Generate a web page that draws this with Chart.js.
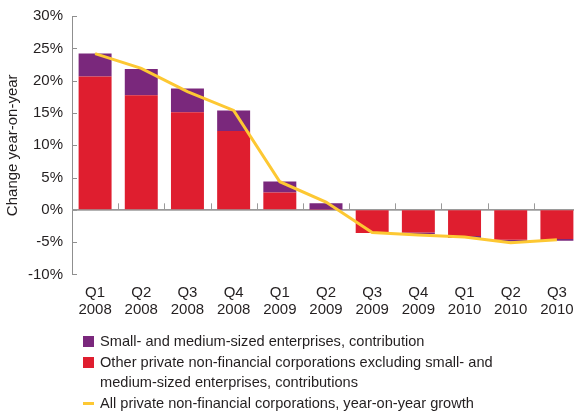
<!DOCTYPE html>
<html>
<head>
<meta charset="utf-8">
<script src="https://cdn.jsdelivr.net/npm/chart.js@4.4.1/dist/chart.umd.min.js"></script>
<style>
  html, body { margin: 0; padding: 0; background: #fff; overflow: hidden; }
  #wrap { position: relative; width: 600px; height: 414px; }
  #legend { position: absolute; left: 83px; top: 331px; font-family: "Liberation Sans", Arial, sans-serif;
            font-size: 14.6px; color: #231f20; line-height: 20px; }
  .item { position: relative; padding-left: 17px; margin-bottom: 1px; width: 420px; }
  .sw { position: absolute; left: 0; top: 5px; width: 11px; height: 11px; }
  .ln { position: absolute; left: 0; top: 9px; width: 11px; height: 3px; }
</style>
</head>
<body>
<div id="wrap">
  <canvas id="c"></canvas>
  <div id="legend"></div>
</div>
<script>
// Quarterly contributions to year-on-year growth in lending to private non-financial corporations
const quarters = ['Q1', 'Q2', 'Q3', 'Q4', 'Q1', 'Q2', 'Q3', 'Q4', 'Q1', 'Q2', 'Q3'];
const years = ['2008', '2008', '2008', '2008', '2009', '2009', '2009', '2009', '2010', '2010', '2010'];

const smeContribution = [3.55, 4.05, 3.7, 3.2, 1.7, 0.95, 0, -0.25, -0.3, -0.25, -0.3];
const otherContribution = [20.65, 17.75, 15.1, 12.2, 2.7, 0.05, -3.6, -3.5, -4.05, -4.65, -4.5];
const totalGrowth = [24.2, 21.9, 18.3, 15.4, 4.35, 1.2, -3.5, -3.9, -4.2, -5.1, -4.65];

const smeLabel = 'Small- and medium-sized enterprises, contribution';
const otherLabel = 'Other private non-financial corporations excluding small- and medium-sized enterprises, contributions';
const totalLabel = 'All private non-financial corporations, year-on-year growth';

const yTicks = [-10, -5, 0, 5, 10, 15, 20, 25, 30];

const PURPLE = '#7a287c';
const RED = '#df1e2f';
const YELLOW = '#fdc833';
const AXIS = '#8f8f8f';
const TEXT = '#231f20';
const FONT = '"Liberation Sans", Arial, sans-serif';

const categories = quarters.map((q, i) => [q, years[i]]);

// Inward tick marks on the value axis, zero line and category separators
const axisMarks = {
  id: 'axisMarks',
  beforeDatasetsDraw(chart) {
    const { ctx, chartArea, scales } = chart;
    const x = scales.x, y = scales.y;
    ctx.save();
    ctx.strokeStyle = AXIS;
    ctx.lineWidth = 1;
    yTicks.forEach(v => {
      const py = Math.round(y.getPixelForValue(v)) + 0.5;
      ctx.beginPath();
      ctx.moveTo(chartArea.left, py);
      ctx.lineTo(chartArea.left + 5, py);
      ctx.stroke();
    });
    const zy = y.getPixelForValue(0);
    ctx.lineWidth = 1.6;
    ctx.strokeStyle = '#9a9a9a';
    ctx.beginPath();
    ctx.moveTo(chartArea.left, zy);
    ctx.lineTo(chartArea.right + 20, zy);
    ctx.stroke();
    ctx.lineWidth = 1;
    for (let i = 0; i < categories.length; i++) {
      const bx = Math.round((x.getPixelForValue(i) + x.getPixelForValue(i + 1)) / 2) + 0.5;
      ctx.beginPath();
      ctx.moveTo(bx, zy);
      ctx.lineTo(bx, zy - 6.5);
      ctx.stroke();
    }
    ctx.restore();
  }
};

const chart = new Chart(document.getElementById('c'), {
  type: 'bar',
  data: {
    labels: categories,
    datasets: [
      { type: 'line', label: totalLabel, data: totalGrowth, borderColor: YELLOW, backgroundColor: YELLOW,
        borderWidth: 3, pointRadius: 0, tension: 0, order: 0, stack: 'line' },
      { label: otherLabel, data: otherContribution, backgroundColor: RED, order: 1, stack: 'c',
        barPercentage: 0.714, categoryPercentage: 1 },
      { label: smeLabel, data: smeContribution, backgroundColor: PURPLE, order: 2, stack: 'c',
        barPercentage: 0.714, categoryPercentage: 1 }
    ]
  },
  options: {
    responsive: true,
    maintainAspectRatio: false,
    animation: false,
    layout: { padding: { top: 5, right: 20, bottom: 94, left: 0 } },
    plugins: { legend: { display: false }, tooltip: { enabled: false } },
    scales: {
      x: {
        stacked: true,
        grid: { display: false },
        border: { display: false },
        ticks: { color: TEXT, font: { family: FONT, size: 15, lineHeight: 1.12 }, padding: 2, maxRotation: 0, autoSkip: false }
      },
      y: {
        stacked: true,
        min: -10, max: 30,
        afterFit(scale) { scale.width = 72; },
        grid: { display: true, drawOnChartArea: false, drawTicks: false },
        border: { display: true, color: AXIS, width: 1 },
        ticks: { stepSize: 5, color: TEXT, padding: 9, font: { family: FONT, size: 15, lineHeight: 0.95 },
                 callback: v => v + '%' },
        title: { display: true, text: 'Change year-on-year', color: TEXT,
                 font: { family: FONT, size: 15 }, padding: { top: 4, bottom: 0 } }
      }
    }
  },
  plugins: [axisMarks]
});

// Legend below the plot, built from the chart's own datasets
const legendOrder = [2, 1, 0];
const legend = document.getElementById('legend');
legendOrder.forEach(idx => {
  const ds = chart.data.datasets[idx];
  const item = document.createElement('div');
  item.className = 'item';
  const mark = document.createElement('span');
  mark.className = ds.type === 'line' ? 'ln' : 'sw';
  mark.style.background = ds.type === 'line' ? ds.borderColor : ds.backgroundColor;
  item.appendChild(mark);
  item.appendChild(document.createTextNode(ds.label));
  legend.appendChild(item);
});
</script>
</body>
</html>
